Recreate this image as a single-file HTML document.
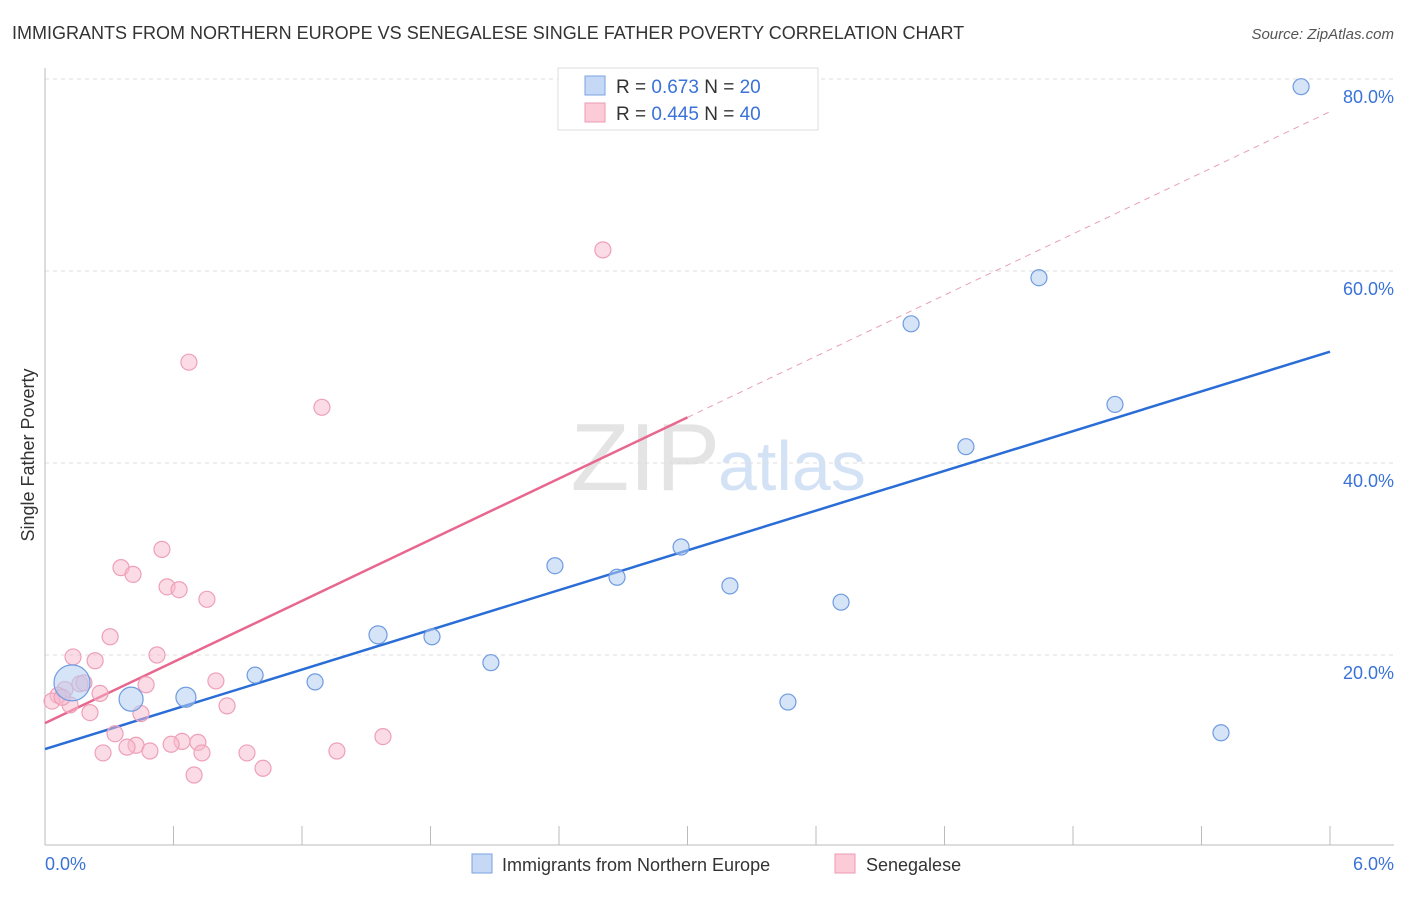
<!DOCTYPE html>
<html><head><meta charset="utf-8"><style>
body{margin:0;background:#fff;font-family:"Liberation Sans",sans-serif;}
svg text{font-family:"Liberation Sans",sans-serif;}
</style></head><body>
<svg id="c" width="1406" height="892" xmlns="http://www.w3.org/2000/svg">
<text x="12" y="39" font-size="18" fill="#333">IMMIGRANTS FROM NORTHERN EUROPE VS SENEGALESE SINGLE FATHER POVERTY CORRELATION CHART</text>
<text x="1394" y="39" font-size="15" fill="#555" font-style="italic" text-anchor="end">Source: ZipAtlas.com</text>
<text x="720" y="490" font-size="96" fill="#e4e4e4" text-anchor="end" font-family="Liberation Serif">ZIP</text>
<text x="718" y="490" font-size="70" fill="#d4e2f6">atlas</text>
<g id="grid"></g><g id="axes"></g><g id="lines"></g><g id="pts"></g>
<text x="34" y="455" font-size="18" fill="#333" text-anchor="middle" transform="rotate(-90 34 455)">Single Father Poverty</text>
<text x="45" y="870" font-size="18" fill="#3a72d8">0.0%</text>
<text x="1394" y="870" font-size="18" fill="#3a72d8" text-anchor="end">6.0%</text>
<g>
<rect x="558" y="68" width="260" height="62" fill="#fff" stroke="#ddd"/>
<rect x="585" y="76" width="20" height="19" fill="#c5d8f6" stroke="#7aa2e0"/>
<rect x="585" y="103" width="20" height="19" fill="#fbcbd8" stroke="#ec99b2"/>
<text x="616" y="93" font-size="19" fill="#333">R = <tspan fill="#3a72d8">0.673</tspan>   N = <tspan fill="#3a72d8">20</tspan></text>
<text x="616" y="120" font-size="19" fill="#333">R = <tspan fill="#3a72d8">0.445</tspan>   N = <tspan fill="#3a72d8">40</tspan></text>
</g>
<g>
<rect x="472" y="854" width="20" height="19" fill="#c5d8f6" stroke="#7aa2e0"/>
<text x="502" y="871" font-size="18" fill="#333">Immigrants from Northern Europe</text>
<rect x="835" y="854" width="20" height="19" fill="#fbcbd8" stroke="#ec99b2"/>
<text x="866" y="871" font-size="18" fill="#333">Senegalese</text>
</g>
</svg>
<script>
const yTicks=[20,40,60,80];
const xTickCount=10;
const blueX=[5.865,4.641,4.044,4.996,4.300,2.970,2.381,2.671,3.198,3.717,1.555,1.807,2.082,0.981,1.261,0.658,0.402,0.126,3.469,5.491];
const blueY=[79.2,59.3,54.5,46.1,41.7,31.25,29.3,28.1,27.2,25.5,22.1,21.9,19.2,17.9,17.2,15.6,15.4,17.1,15.1,11.9];
const blueR=[8,8,8,8,8,8,8,8,8,8,9,8,8,8,8,10,12,18,8,8];
const pinkX=[2.605,0.672,1.293,0.546,0.355,0.411,0.570,0.626,0.756,0.304,0.523,0.131,0.234,0.798,0.472,0.163,0.093,0.257,0.061,0.033,0.117,0.850,0.210,0.448,0.327,1.578,0.640,0.714,0.589,0.425,0.383,0.490,1.363,0.271,0.733,0.943,1.018,0.696,0.182,0.080];
const pinkY=[62.2,50.5,45.8,31.0,29.1,28.4,27.1,26.8,25.8,21.9,20.0,19.8,19.4,17.3,16.9,17.0,16.4,16.0,15.8,15.2,14.8,14.7,14.0,13.9,11.8,11.5,11.0,10.9,10.7,10.6,10.4,10.0,10.0,9.8,9.8,9.8,8.2,7.5,17.1,15.6];
const blueLine=[10.2,51.6];
const pinkLine=[12.9,76.6];
const pinkSolidEnd=3.0;
const X=v=>45+v/6*1285, Y=v=>847-v*9.6;
const NS="http://www.w3.org/2000/svg";
function mk(p,t,a){const e=document.createElementNS(NS,t);for(const k in a)e.setAttribute(k,a[k]);document.getElementById(p).appendChild(e);return e;}
yTicks.forEach(t=>{
const l=mk('grid','line',{x1:45,x2:1394,y1:Y(t),y2:Y(t),stroke:'#ddd','stroke-dasharray':'4 4'});


const tx=mk('grid','text',{x:1394,y:Y(t)+24,'font-size':18,fill:'#3a72d8','text-anchor':'end'});
tx.textContent=t.toFixed(1)+'%';


});
const ax=mk('axes','line',{x1:45,x2:1394,y1:845,y2:845,stroke:'#bbb'});


const ay=mk('axes','line',{x1:45,x2:45,y1:68,y2:845,stroke:'#bbb'});


for(let i=1;i<=xTickCount;i++){const v=i*6/xTickCount;
const t=mk('axes','line',{x1:X(v),x2:X(v),y1:826,y2:845,stroke:'#bbb'});

}
const lin=(a,x)=>a[0]+(a[1]-a[0])*x/6;
const bl=mk('lines','line',{x1:X(0),y1:Y(lin(blueLine,0)),x2:X(6),y2:Y(lin(blueLine,6)),stroke:'#2a6dd6','stroke-width':2.5});


const pl=mk('lines','line',{x1:X(0),y1:Y(lin(pinkLine,0)),x2:X(pinkSolidEnd),y2:Y(lin(pinkLine,pinkSolidEnd)),stroke:'#e8678f','stroke-width':2.5});


const pd=mk('lines','line',{x1:X(pinkSolidEnd),y1:Y(lin(pinkLine,pinkSolidEnd)),x2:X(6),y2:Y(lin(pinkLine,6)),stroke:'#e8a0b4','stroke-width':1,'stroke-dasharray':'6 5'});


pinkX.forEach((x,i)=>{const c=mk('pts','circle',{cx:X(x),cy:Y(pinkY[i]),r:8,fill:'rgba(248,183,203,0.5)',stroke:'#eea0b8','stroke-width':1.2});

});
blueX.forEach((x,i)=>{const c=mk('pts','circle',{cx:X(x),cy:Y(blueY[i]),r:blueR[i],fill:'rgba(180,205,243,0.55)',stroke:'#6f9be0','stroke-width':1.2});

});
</script>
</body></html>
